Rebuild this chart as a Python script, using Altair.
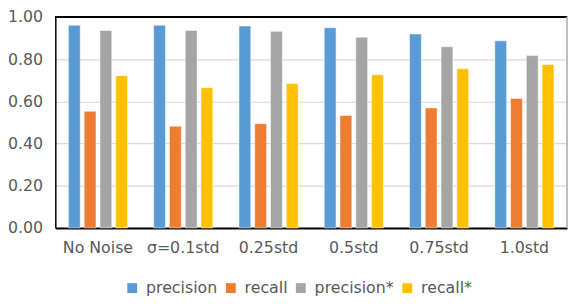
import altair as alt
import pandas as pd

categories = ["No Noise", "σ=0.1std", "0.25std", "0.5std", "0.75std", "1.0std"]
series = ["precision", "recall", "precision*", "recall*"]
precision = [0.961, 0.961, 0.957, 0.949, 0.919, 0.887]
recall = [0.553, 0.482, 0.494, 0.533, 0.569, 0.614]
precision_star = [0.936, 0.936, 0.932, 0.904, 0.859, 0.817]
recall_star = [0.722, 0.665, 0.685, 0.726, 0.755, 0.775]
colors = ["#5B9BD5", "#ED7D31", "#A5A5A5", "#FFC000"]

rows = []
for name, vals in zip(series, [precision, recall, precision_star, recall_star]):
    for c, v in zip(categories, vals):
        rows.append({"cat": c, "series": name, "value": v})
df = pd.DataFrame(rows)

W, H = 519, 214
FONT = "DejaVu Sans"

bars = alt.Chart(df).mark_bar(stroke="white", strokeWidth=0.5).encode(
    x=alt.X("cat:N", sort=categories, title=None,
            scale=alt.Scale(paddingInner=0.26, paddingOuter=0.13),
            axis=alt.Axis(labelAngle=0, ticks=False, domain=True, domainColor="#000000",
                          domainWidth=2, labelFont=FONT, labelFontSize=16,
                          labelColor="#595959", labelPadding=12, grid=False)),
    xOffset=alt.XOffset("series:N", sort=series,
                        scale=alt.Scale(paddingInner=0.25, paddingOuter=0.125)),
    y=alt.Y("value:Q", title=None,
            scale=alt.Scale(domain=[0, 1], nice=False),
            axis=alt.Axis(values=[0, 0.2, 0.4, 0.6, 0.8, 1.0], format=".2f", ticks=False,
                          domainColor="#000000", domainWidth=1.5, gridColor="#D9D9D9",
                          gridWidth=1.2, labelFont=FONT, labelFontSize=16,
                          labelColor="#595959", labelPadding=13)),
    color=alt.Color("series:N", sort=series,
                    scale=alt.Scale(domain=series, range=colors),
                    legend=alt.Legend(title=None, orient="none", direction="horizontal",
                                      legendX=70, legendY=267, symbolType="square",
                                      symbolSize=100, symbolStrokeWidth=0,
                                      labelFont=FONT, labelFontSize=16,
                                      labelColor="#595959", labelOffset=6,
                                      columnPadding=5)),
)

top = alt.Chart(df).mark_rule(color="#000000", strokeWidth=2).encode(
    x=alt.value(0), x2=alt.value(W), y=alt.value(0)
)
right = alt.Chart(df).mark_rule(color="#BFBFBF", strokeWidth=1).encode(
    x=alt.value(W), y=alt.value(0), y2=alt.value(H)
)

chart = alt.layer(bars, top, right).properties(
    width=W, height=H,
    autosize=alt.AutoSizeParams(type="none"),
    padding={"left": 48, "top": 7, "right": 1, "bottom": 75},
).configure_view(stroke=None)

chart.save("out.html", embed_options={"renderer": "svg", "actions": False})
